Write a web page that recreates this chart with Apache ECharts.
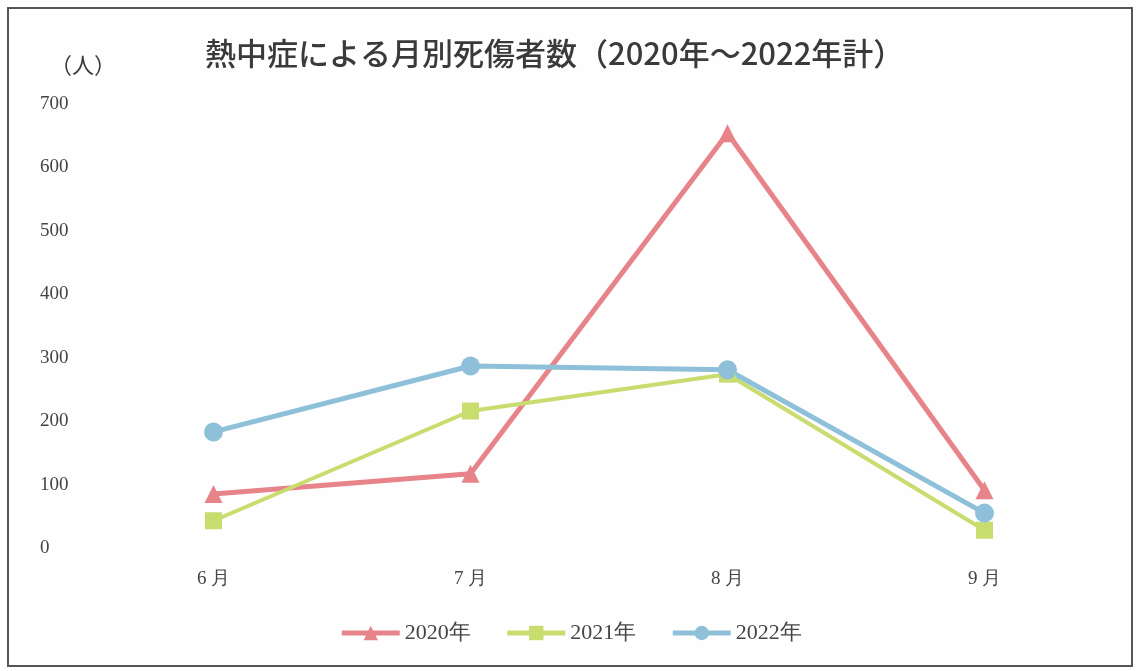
<!DOCTYPE html>
<html>
<head>
<meta charset="utf-8">
<script src="https://cdn.jsdelivr.net/npm/echarts@6/dist/echarts.min.js"></script>
<style>
html,body{margin:0;padding:0;background:#fff;}
#chart{width:1141px;height:671px;}
</style>
</head>
<body>
<div id="chart"></div>
<script>
// 月
var months = ['6 月', '7 月', '8 月', '9 月'];
// 各年の死傷者数
var y2020 = [85, 117, 654, 91];
var y2021 = [43, 216, 274, 28];
var y2022 = [183, 287, 281, 55];
var seriesNames = ['2020年', '2021年', '2022年'];

var chart = echarts.init(document.getElementById('chart'));

var option = {
    backgroundColor: '#fefefe',
    color: ['#e7848a', '#c9dc6e', '#8ec1d9'],
    title: {
        text: '熱中症による月別死傷者数（2020年～2022年計）',
        left: 200,
        top: 33,
        textStyle: {
            fontFamily: 'Noto Sans CJK JP',
            fontSize: 31,
            fontWeight: 500,
            color: '#3a3a3a'
        }
    },
    graphic: [
        {
            type: 'rect',
            shape: { x: 8, y: 8, width: 1124, height: 658 },
            style: { fill: 'none', stroke: '#555', lineWidth: 2 },
            silent: true
        },
        {
            type: 'text',
            left: 50,
            top: 54,
            style: {
                text: '（人）',
                font: '22px "Noto Sans CJK JP"',
                fill: '#3a3a3a'
            }
        }
    ],
    legend: {
        data: seriesNames,
        bottom: 22,
        left: 'center',
        itemWidth: 58,
        itemHeight: 18,
        itemGap: 34,
        lineStyle: { width: 5 },
        textStyle: {
            fontFamily: 'Liberation Serif',
            fontSize: 22,
            color: '#444'
        }
    },
    grid: {
        left: 85,
        right: 28,
        top: 104,
        bottom: 123
    },
    xAxis: {
        type: 'category',
        data: months,
        boundaryGap: true,
        axisLine: { show: false },
        axisTick: { show: false },
        axisLabel: {
            margin: 22,
            fontFamily: 'Liberation Serif',
            fontSize: 19,
            color: '#444'
        }
    },
    yAxis: {
        type: 'value',
        min: 0,
        max: 700,
        interval: 100,
        splitLine: { show: false },
        axisLine: { show: false },
        axisTick: { show: false },
        axisLabel: {
            align: 'left',
            margin: 45,
            fontFamily: 'Liberation Serif',
            fontSize: 19,
            color: '#444'
        }
    },
    series: [
        {
            name: seriesNames[0],
            type: 'line',
            symbol: 'triangle',
            symbolSize: 18,
            lineStyle: { width: 5 },
            data: y2020
        },
        {
            name: seriesNames[1],
            type: 'line',
            symbol: 'rect',
            symbolSize: 17,
            lineStyle: { width: 4 },
            data: y2021
        },
        {
            name: seriesNames[2],
            type: 'line',
            symbol: 'circle',
            symbolSize: 19,
            lineStyle: { width: 5 },
            data: y2022
        }
    ]
};

chart.setOption(option);
</script>
</body>
</html>
